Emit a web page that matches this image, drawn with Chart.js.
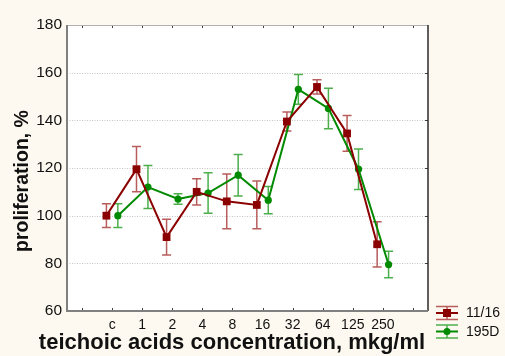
<!DOCTYPE html>
<html><head><meta charset="utf-8">
<script src="https://cdn.jsdelivr.net/npm/chart.js@4/dist/chart.umd.min.js"></script>
<style>
html,body{margin:0;padding:0;background:#fef9f0;}
#wrap{width:505px;height:356px;position:relative;}
</style></head>
<body><div id="wrap"><canvas id="c" width="505" height="356"></canvas></div>
<script>
const categories = ['c','1','2','4','8','16','32','64','125','250'];
const seriesNames = ['11/16','195D'];
const series1 = [100, 119.5, 91, 110, 106, 104.5, 139.5, 154, 134.5, 88];
const series1Err = [5, 9.5, 7.5, 5.5, 11.5, 10, 4, 3, 7.5, 9.5];
const series2 = [100, 112, 107, 109.5, 117, 106.5, 153, 145, 119.5, 79.5];
const series2Err = [5, 9, 2.2, 8.5, 8.7, 5.7, 6.2, 8.5, 8.5, 5.6];
const yMin = 60, yMax = 180, yStep = 20;
const xTitle = 'teichoic acids concentration, mkg/ml';
const yTitle = 'proliferation, %';

const FONT = "'Liberation Sans', Arial, sans-serif";
const colors = ['#8b0000', '#008a00'];
const errColors = ['#b85c5c', '#4caf4c'];
const xShift = [-0.19, 0.19];
const errs = [series1Err, series2Err];

const framePlugin = {
  id: 'frame',
  beforeDraw(chart) {
    const {ctx, chartArea: a} = chart;
    ctx.save();
    ctx.fillStyle = '#fef9f0';
    ctx.fillRect(0, 0, chart.width, chart.height);
    ctx.fillStyle = '#ffffff';
    ctx.fillRect(a.left, a.top, a.right - a.left, a.bottom - a.top);
    // dotted grid
    const ys = chart.scales.y;
    ctx.strokeStyle = '#c4c4c4';
    ctx.lineWidth = 1;
    ctx.setLineDash([1, 1.5]);
    for (let v = yMin + yStep; v < yMax; v += yStep) {
      const y = Math.round(ys.getPixelForValue(v)) + 0.5;
      ctx.beginPath(); ctx.moveTo(a.left, y); ctx.lineTo(a.right, y); ctx.stroke();
    }
    ctx.restore();
  },
  beforeDatasetsDraw(chart) {
    const {ctx} = chart;
    const ys = chart.scales.y;
    ctx.save();
    chart.data.datasets.forEach((ds, di) => {
      const meta = chart.getDatasetMeta(di);
      ctx.strokeStyle = errColors[di];
      ctx.lineWidth = 1.5;
      meta.data.forEach((pt, j) => {
        const v = ds.data[j].y, e = errs[di][j];
        const x = pt.x;
        const yt = ys.getPixelForValue(v + e), yb = ys.getPixelForValue(v - e);
        ctx.beginPath();
        ctx.moveTo(x, yt); ctx.lineTo(x, yb);
        ctx.moveTo(x - 4.5, yt); ctx.lineTo(x + 4.5, yt);
        ctx.moveTo(x - 4.5, yb); ctx.lineTo(x + 4.5, yb);
        ctx.stroke();
      });
    });
    ctx.restore();
  },
  afterDraw(chart) {
    const {ctx, chartArea: a} = chart;
    const xs = chart.scales.x, ys = chart.scales.y;
    ctx.save();
    // inward ticks
    ctx.strokeStyle = '#404040';
    ctx.lineWidth = 1;
    xs.ticks.forEach(t => {
      const x = Math.round(xs.getPixelForValue(t.value)) + 0.5;
      ctx.beginPath();
      ctx.moveTo(x, a.top); ctx.lineTo(x, a.top + 3);
      ctx.moveTo(x, a.bottom); ctx.lineTo(x, a.bottom - 3);
      ctx.stroke();
    });
    ys.ticks.forEach(t => {
      const y = Math.round(ys.getPixelForValue(t.value)) + 0.5;
      ctx.beginPath();
      ctx.moveTo(a.right, y); ctx.lineTo(a.right - 3, y);
      ctx.stroke();
    });
    // frame
    ctx.strokeStyle = '#b0b0b0'; ctx.lineWidth = 1;
    ctx.beginPath(); ctx.moveTo(a.left, a.top + 0.5); ctx.lineTo(a.right, a.top + 0.5); ctx.stroke();
    ctx.strokeStyle = '#2a2a2a'; ctx.lineWidth = 1.5;
    ctx.beginPath(); ctx.moveTo(a.right, a.top); ctx.lineTo(a.right, a.bottom); ctx.stroke();
    ctx.strokeStyle = '#808080'; ctx.lineWidth = 2;
    ctx.beginPath(); ctx.moveTo(a.left, a.top); ctx.lineTo(a.left, a.bottom); ctx.lineTo(a.right, a.bottom); ctx.stroke();

    // axis titles
    ctx.fillStyle = '#111';
    ctx.textAlign = 'center'; ctx.textBaseline = 'middle';
    ctx.font = 'bold 22px ' + FONT;
    ctx.fillText(xTitle, 232, 343);
    ctx.save();
    ctx.translate(23, 181);
    ctx.rotate(-Math.PI / 2);
    ctx.font = 'bold 19.5px ' + FONT;
    ctx.fillText(yTitle, 0, 0);
    ctx.restore();

    // legend
    const items = [[0, 313], [1, 331.5]];
    items.forEach(([di, y]) => {
      const x0 = 436, x1 = 458, xc = (x0 + x1) / 2;
      ctx.strokeStyle = errColors[di]; ctx.lineWidth = 1.5;
      ctx.beginPath();
      ctx.moveTo(x0, y - 6.5); ctx.lineTo(x1, y - 6.5);
      ctx.moveTo(x0, y + 6.5); ctx.lineTo(x1, y + 6.5);
      ctx.moveTo(xc, y - 6.5); ctx.lineTo(xc, y + 6.5);
      ctx.stroke();
      ctx.strokeStyle = colors[di]; ctx.lineWidth = 2;
      ctx.beginPath(); ctx.moveTo(x0, y); ctx.lineTo(x1, y); ctx.stroke();
      ctx.fillStyle = colors[di];
      if (di === 0) { ctx.fillRect(xc - 4, y - 4, 8, 8); }
      else { ctx.beginPath(); ctx.arc(xc, y, 3.5, 0, Math.PI * 2); ctx.fill(); }
      ctx.fillStyle = '#111';
      ctx.font = '14px ' + FONT;
      ctx.textAlign = 'left';
      ctx.fillText(seriesNames[di], 466, y + 0.5);
    });
    ctx.restore();
  }
};

const mk = (vals, k) => vals.map((v, i) => ({x: i + xShift[k], y: v}));

new Chart(document.getElementById('c'), {
  type: 'line',
  data: {
    datasets: [
      {label: seriesNames[0], data: mk(series1, 0), borderColor: colors[0], backgroundColor: colors[0],
       borderWidth: 2, pointStyle: 'rect', pointRadius: 5.5, pointBorderWidth: 0, tension: 0},
      {label: seriesNames[1], data: mk(series2, 1), borderColor: colors[1], backgroundColor: colors[1],
       borderWidth: 2, pointStyle: 'circle', pointRadius: 3.6, pointBorderWidth: 0, tension: 0}
    ]
  },
  options: {
    responsive: false,
    animation: false,
    devicePixelRatio: 1,
    layout: {padding: {top: 25, right: 77, left: 0, bottom: 0}},
    plugins: {legend: {display: false}, tooltip: {enabled: false}},
    scales: {
      x: {
        type: 'linear', min: -1.5, max: 10.5,
        afterBuildTicks: s => { s.ticks = []; for (let v = -1; v <= categories.length; v++) s.ticks.push({value: v}); },
        ticks: {callback: v => categories[v] ?? '', autoSkip: false, maxRotation: 0, padding: 6,
                color: '#111', font: {family: FONT, size: 14}},
        grid: {display: false, drawTicks: false},
        border: {display: false},
        afterFit: s => { s.height = 45; }
      },
      y: {
        min: yMin, max: yMax,
        ticks: {stepSize: yStep, padding: 5, color: '#111', font: {family: FONT, size: 15.5}},
        grid: {display: false, drawTicks: false},
        border: {display: false},
        afterFit: s => { s.width = 67; }
      }
    }
  },
  plugins: [framePlugin]
});
</script></body></html>
